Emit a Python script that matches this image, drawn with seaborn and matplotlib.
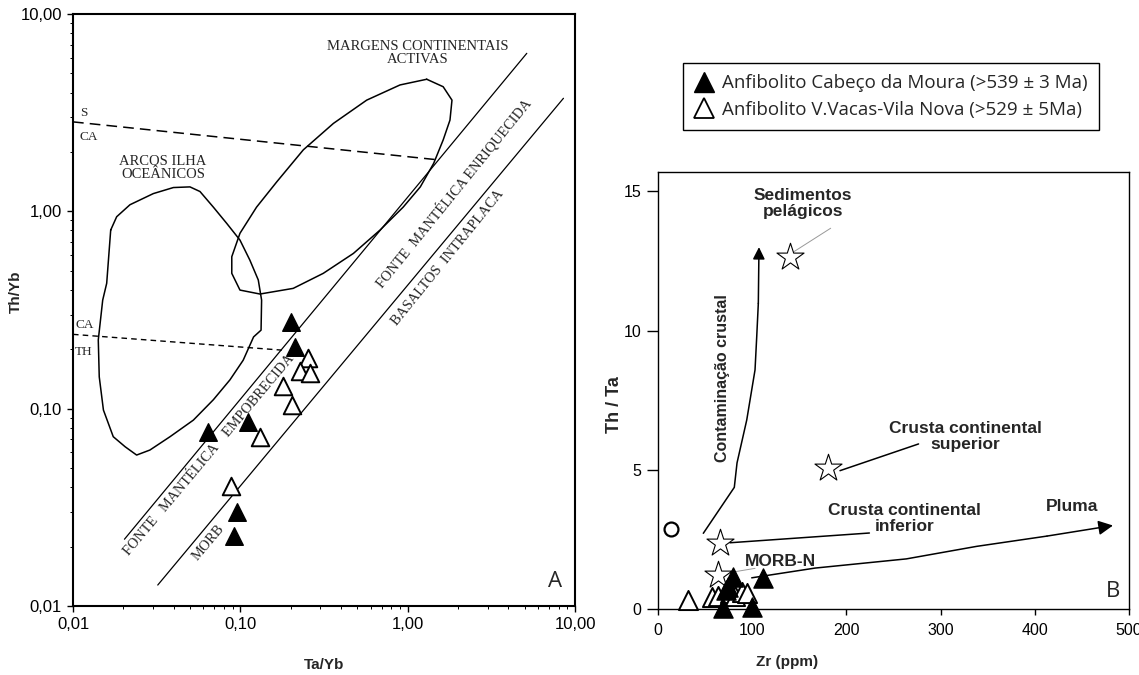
import matplotlib
matplotlib.use("Agg")
import matplotlib.pyplot as plt
from matplotlib.lines import Line2D
from matplotlib.ticker import FixedLocator, FuncFormatter, LogLocator, NullFormatter
import pandas as pd
import seaborn as sns

# ---------------- Diagrama A: Th/Yb vs Ta/Yb ----------------
moura_ta_yb = [0.201, 0.212, 0.111, 0.0644, 0.0951, 0.0916]
moura_th_yb = [0.276, 0.206, 0.0859, 0.0764, 0.0300, 0.0226]
vacas_ta_yb = [0.255, 0.228, 0.261, 0.179, 0.203, 0.131, 0.0879]
vacas_th_yb = [0.180, 0.155, 0.151, 0.130, 0.104, 0.0715, 0.0405]

# contorno "Margens continentais activas"
margens_ta = [1.30, 1.63, 1.84, 1.79, 1.63, 1.43, 1.19, 0.94, 0.684, 0.474, 0.313, 0.207,
              0.131, 0.0995, 0.0889, 0.0889, 0.0995, 0.125, 0.165, 0.238, 0.360, 0.569, 0.90, 1.30]
margens_th = [4.67, 4.28, 3.66, 2.90, 2.30, 1.75, 1.33, 1.05, 0.804, 0.612, 0.485, 0.407,
              0.381, 0.399, 0.485, 0.589, 0.774, 1.05, 1.41, 2.05, 2.79, 3.66, 4.37, 4.67]

# contorno "Arcos ilha oceânicos"
arcos_ta = [0.0168, 0.01824, 0.0219, 0.0302, 0.0398, 0.050, 0.0574, 0.0690, 0.0829, 0.0995,
            0.114, 0.128, 0.134, 0.133, 0.120, 0.104, 0.0867, 0.0690, 0.0524, 0.038, 0.0288,
            0.0240, 0.0205, 0.0174, 0.0152, 0.01435, 0.01416, 0.01505, 0.0159, 0.0168]
arcos_th = [0.804, 0.939, 1.08, 1.23, 1.32, 1.33, 1.26, 1.05, 0.869, 0.715,
            0.566, 0.449, 0.355, 0.250, 0.231, 0.176, 0.140, 0.111, 0.0875, 0.0721, 0.0617,
            0.0582, 0.0641, 0.0721, 0.0984, 0.145, 0.223, 0.355, 0.432, 0.804]

# limites
s_ca_ta, s_ca_th = [0.01, 1.46], [2.84, 1.83]
ca_th_ta, ca_th_th = [0.01, 0.177], [0.238, 0.198]
enriq_ta, enriq_th = [0.0203, 5.15], [0.0218, 6.32]
morb_ta, morb_th = [0.0321, 8.53], [0.01277, 3.74]

log_ticks = [0.01, 0.1, 1, 10]
log_labels = ["0,01", "0,10", "1,00", "10,00"]

# ---------------- Diagrama B: Th/Ta vs Zr ----------------
moura_zr = [79.9, 74.6, 72.2, 69.3, 99.5, 111.8]
moura_th_ta = [1.15, 0.80, 0.68, 0.04, 0.07, 1.10]
vacas_zr = [32.2, 57.0, 63.7, 76.4, 81.7, 88.9, 94.2]
vacas_th_ta = [0.32, 0.44, 0.47, 0.56, 0.47, 0.62, 0.56]

ref_names = ["Sedimentos\npelágicos", "Crusta continental\nsuperior",
             "Crusta continental\ninferior", "MORB-N"]
ref_zr = [140.1, 180.8, 65.8, 64.0]
ref_th_ta = [12.63, 5.06, 2.36, 1.22]
circle_zr, circle_th_ta = [13.5], [2.86]

contam_zr = [48.1, 81.0, 83.9, 94.2, 103.0, 104.8, 106.5, 107.2]
contam_th_ta = [2.72, 4.37, 5.25, 6.79, 8.59, 9.78, 10.98, 13.0]
pluma_zr = [99.5, 166.7, 263.6, 338.2, 413.0, 483.0]
pluma_th_ta = [1.12, 1.47, 1.80, 2.25, 2.62, 3.00]

sed_leader = ([144.4, 183.3], [12.84, 13.68])
sup_leader = ([193.2, 276.6], [4.97, 5.93])
inf_leader = ([76.4, 224.4], [2.38, 2.73])
morbn_leader = ([71.1, 103.0], [1.28, 1.46])

lin_xticks = [0, 100, 200, 300, 400, 500]
lin_yticks = [0, 5, 10, 15]

sns.set_theme(style="white")
plt.rcParams["font.family"] = ["Liberation Sans", "DejaVu Sans"]
plt.rcParams["axes.edgecolor"] = "black"

fig = plt.figure(figsize=(11.39, 6.75), dpi=100)
ax1 = fig.add_axes([73 / 1139, 1 - 606 / 675, 502 / 1139, 592 / 675])
ax2 = fig.add_axes([658 / 1139, 1 - 609 / 675, 471 / 1139, 437 / 675])

SERIF = ["Liberation Serif", "DejaVu Serif"]
THIN = ["Open Sans", "DejaVu Sans"]

# ---------- painel A ----------
ax1.set_xscale("log")
ax1.set_yscale("log")
ax1.set_xlim(0.01, 10)
ax1.set_ylim(0.01, 10)

ax1.plot(margens_ta, margens_th, color="black", lw=1.1)
ax1.plot(arcos_ta, arcos_th, color="black", lw=1.1)
ax1.plot(s_ca_ta, s_ca_th, color="black", lw=1.1, ls=(0, (7, 4)))
ax1.plot(ca_th_ta, ca_th_th, color="black", lw=1.0, ls=(0, (4, 3)))
ax1.plot(enriq_ta, enriq_th, color="black", lw=0.9)
ax1.plot(morb_ta, morb_th, color="black", lw=0.9)

df_a = pd.concat([
    pd.DataFrame({"ta": moura_ta_yb, "th": moura_th_yb, "grupo": "moura"}),
    pd.DataFrame({"ta": vacas_ta_yb, "th": vacas_th_yb, "grupo": "vacas"}),
])
sns.scatterplot(data=df_a[df_a.grupo == "moura"], x="ta", y="th", marker="^", s=160,
                color="black", edgecolor="black", linewidth=1.0, ax=ax1, zorder=5)
sns.scatterplot(data=df_a[df_a.grupo == "vacas"], x="ta", y="th", marker="^", s=160,
                facecolor="white", edgecolor="black", linewidth=1.4, ax=ax1, zorder=5)

ax1.text(1.146, 6.34, "MARGENS CONTINENTAIS\nACTIVAS", family=SERIF, fontsize=10.5,
         ha="center", va="center", linespacing=1.0)
ax1.text(0.0345, 1.667, "ARCOS ILHA\nOCEÂNICOS", family=SERIF, fontsize=10.5,
         ha="center", va="center", linespacing=1.0)
ax1.text(0.0111, 3.14, "S", family=SERIF, fontsize=9.5, ha="left", va="center")
ax1.text(0.0110, 2.37, "CA", family=SERIF, fontsize=9.5, ha="left", va="center")
ax1.text(0.0103, 0.265, "CA", family=SERIF, fontsize=9.5, ha="left", va="center")
ax1.text(0.0103, 0.194, "TH", family=SERIF, fontsize=9.5, ha="left", va="center")
ax1.text(1.875, 1.234, "FONTE  MANTÉLICA ENRIQUECIDA", family=SERIF, fontsize=10.3,
         rotation=51, ha="center", va="center", rotation_mode="anchor")
ax1.text(1.744, 0.580, "BASALTOS  INTRAPLACA", family=SERIF, fontsize=10.3,
         rotation=51, ha="center", va="center", rotation_mode="anchor")
ax1.text(0.065, 0.0582, "FONTE   MANTÉLICA    EMPOBRECIDA", family=SERIF, fontsize=10.3,
         rotation=50, ha="center", va="center", rotation_mode="anchor")
ax1.text(0.0644, 0.02097, "MORB", family=SERIF, fontsize=10.3,
         rotation=50, ha="center", va="center", rotation_mode="anchor")
ax1.text(7.6, 0.01327, "A", family=THIN, fontsize=16, ha="center", va="center")

ax1.xaxis.set_major_locator(FixedLocator(log_ticks))
ax1.yaxis.set_major_locator(FixedLocator(log_ticks))
fmt = FuncFormatter(lambda v, p: log_labels[log_ticks.index(min(log_ticks, key=lambda t: abs(t - v)))])
ax1.xaxis.set_major_formatter(fmt)
ax1.yaxis.set_major_formatter(fmt)
ax1.xaxis.set_minor_locator(LogLocator(base=10, subs=range(2, 10)))
ax1.yaxis.set_minor_locator(LogLocator(base=10, subs=range(2, 10)))
ax1.xaxis.set_minor_formatter(NullFormatter())
ax1.yaxis.set_minor_formatter(NullFormatter())
ax1.tick_params(which="major", direction="out", length=4, width=1.0, labelsize=12,
                bottom=True, left=True, colors="black", pad=4)
ax1.tick_params(which="minor", direction="out", length=2.5, width=0.7,
                bottom=True, left=True, colors="black")
for sp in ax1.spines.values():
    sp.set_linewidth(1.5)
ax1.set_xlabel("Ta/Yb", fontsize=11, fontweight="bold")
ax1.xaxis.set_label_coords(0.5, -0.088)
ax1.set_ylabel("Th/Yb", fontsize=11, fontweight="bold")
ax1.yaxis.set_label_coords(-0.1, 0.53)

# ---------- painel B ----------
ax2.set_xlim(0, 500)
ax2.set_ylim(0, 15.7)

arrow = dict(arrowstyle="-|>", color="black", lw=1.1, shrinkA=0, shrinkB=0)
ax2.plot(contam_zr[:-1], contam_th_ta[:-1], color="black", lw=1.1)
ax2.annotate("", xy=(contam_zr[-1], contam_th_ta[-1]), xytext=(contam_zr[-2], contam_th_ta[-2]),
             arrowprops=dict(arrow, mutation_scale=18))
ax2.plot(pluma_zr[:-1], pluma_th_ta[:-1], color="black", lw=1.1)
ax2.annotate("", xy=(pluma_zr[-1], pluma_th_ta[-1]), xytext=(pluma_zr[-2], pluma_th_ta[-2]),
             arrowprops=dict(arrow, mutation_scale=22))

ax2.plot(*sed_leader, color="#999999", lw=0.7)
ax2.plot(*morbn_leader, color="#999999", lw=0.7)
ax2.plot(*sup_leader, color="black", lw=1.1)
ax2.plot(*inf_leader, color="black", lw=1.1)

df_b = pd.concat([
    pd.DataFrame({"zr": moura_zr, "thta": moura_th_ta, "grupo": "moura"}),
    pd.DataFrame({"zr": vacas_zr, "thta": vacas_th_ta, "grupo": "vacas"}),
])
sns.scatterplot(x=ref_zr, y=ref_th_ta, marker="*", s=420, facecolor="white",
                edgecolor="black", linewidth=0.8, ax=ax2, zorder=4)
sns.scatterplot(x=circle_zr, y=circle_th_ta, marker="o", s=100, facecolor="white",
                edgecolor="black", linewidth=1.6, ax=ax2, zorder=4)
sns.scatterplot(data=df_b[df_b.grupo == "vacas"], x="zr", y="thta", marker="^", s=190,
                facecolor="white", edgecolor="black", linewidth=1.4, ax=ax2, zorder=5,
                clip_on=False)
sns.scatterplot(data=df_b[df_b.grupo == "moura"], x="zr", y="thta", marker="^", s=190,
                color="black", edgecolor="black", linewidth=1.0, ax=ax2, zorder=6,
                clip_on=False)

bold = dict(fontsize=12.5, fontweight="bold", ha="center", va="center", linespacing=1.05)
ax2.text(154, 14.57, ref_names[0], **bold)
ax2.text(326, 6.2, ref_names[1], **bold)
ax2.text(262, 3.25, ref_names[2], **bold)
ax2.text(129.5, 1.72, ref_names[3], **bold)
ax2.text(439.5, 3.68, "Pluma", **bold)
ax2.text(68, 8.3, "Contaminação crustal", fontsize=11.5, fontweight="bold",
         rotation=90, ha="center", va="center")
ax2.text(483, 0.63, "B", family=THIN, fontsize=16, ha="center", va="center")

ax2.set_xticks(lin_xticks)
ax2.set_yticks(lin_yticks)
ax2.tick_params(axis="x", direction="out", length=4, width=1.0, labelsize=11.5,
                bottom=True, colors="black", pad=6)
ax2.tick_params(axis="y", direction="out", length=8, width=1.0, labelsize=11.5,
                left=True, colors="black", pad=4)
for sp in ax2.spines.values():
    sp.set_linewidth(1.0)
ax2.set_xlabel("Zr (ppm)", fontsize=11, fontweight="bold")
ax2.xaxis.set_label_coords(0.274, -0.105)
ax2.set_ylabel("Th / Ta", fontsize=13, fontweight="bold")
ax2.yaxis.set_label_coords(-0.075, 0.467)

handles = [
    Line2D([], [], marker="^", ls="none", markersize=14, color="black"),
    Line2D([], [], marker="^", ls="none", markersize=14, markerfacecolor="white",
           markeredgecolor="black", markeredgewidth=1.3),
]
labels = ["Anfibolito Cabeço da Moura (>539 ± 3 Ma)",
          "Anfibolito V.Vacas-Vila Nova (>529 ± 5Ma)"]
leg = fig.legend(handles, labels, loc="upper left", bbox_to_anchor=(683 / 1139, 1 - 63 / 675),
                 frameon=True, fancybox=False, edgecolor="black", framealpha=1,
                 prop={"family": THIN, "size": 13.5},
                 handlelength=1.0, handletextpad=0.5, borderpad=0.6, labelspacing=0.45,
                 borderaxespad=0)
leg.get_frame().set_linewidth(1.0)

fig.savefig("out.png", dpi=100, facecolor="white")
